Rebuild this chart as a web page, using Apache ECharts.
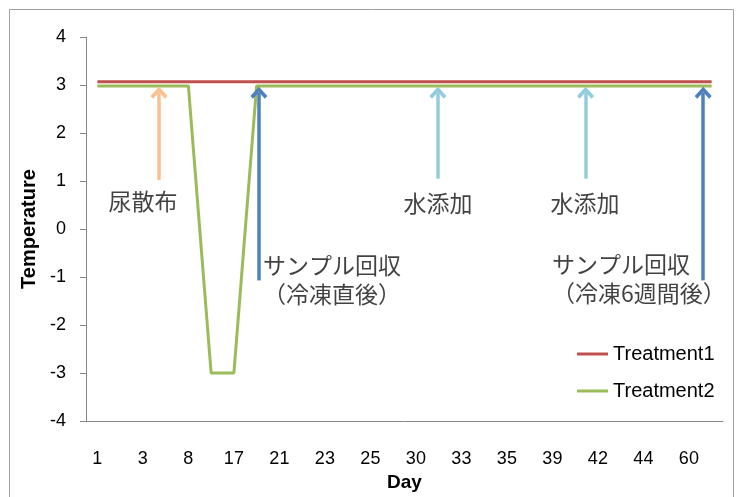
<!DOCTYPE html>
<html>
<head>
<meta charset="utf-8">
<script src="https://cdn.jsdelivr.net/npm/echarts@6/dist/echarts.min.js"></script>
<style>
  html, body { margin: 0; padding: 0; background: #fff; }
  #chart { width: 737px; height: 497px; }
</style>
</head>
<body>
<div id="chart"></div>
<script>
// x categories, only every other one gets a label
const days = ['1', '2', '3', '5', '8', '12', '17', '19', '21', '22', '23', '24', '25', '27',
  '30', '32', '33', '34', '35', '37', '39', '40', '42', '43', '44', '50', '60', '61']
const treatment1 = [3.07, 3.07, 3.07, 3.07, 3.07, 3.07, 3.07, 3.07, 3.07, 3.07, 3.07, 3.07, 3.07, 3.07,
  3.07, 3.07, 3.07, 3.07, 3.07, 3.07, 3.07, 3.07, 3.07, 3.07, 3.07, 3.07, 3.07, 3.07]
const treatment2 = [2.98, 2.98, 2.98, 2.98, 2.98, -3, -3, 2.98, 2.98, 2.98, 2.98, 2.98, 2.98, 2.98,
  2.98, 2.98, 2.98, 2.98, 2.98, 2.98, 2.98, 2.98, 2.98, 2.98, 2.98, 2.98, 2.98, 2.98]

// annotation arrows (x in category units on a hidden value axis)
const arrowX = [3.21, 7.6, 15.47, 21.96, 27.13]
const arrowFrom = [1.02, -1.07, 1.05, 1.05, -1.07]
const arrowTo = [2.84, 2.84, 2.84, 2.84, 2.84]
const arrowColors = ['#FAC090', '#4F81BD', '#93CDDD', '#93CDDD', '#4F81BD']

// annotation texts
const noteText = ['尿散布', 'サンプル回収\n（冷凍直後）', '水添加', '水添加', 'サンプル回収\n（冷凍6週間後）']
const noteX = [2.51, 7.78, 15.47, 21.93, 20.48]
const noteY = [0.58, -1.06, 0.54, 0.54, -1.03]
const noteAlign = ['center', 'left', 'center', 'center', 'left']

const latin = '"Liberation Sans", Arial, sans-serif'
const cjk = '"Noto Sans CJK JP", "Liberation Sans", sans-serif'
const axisGray = '#868686'
const arrowPath = 'path://M10,0 L20,10 L17,13 L10,6 L3,13 L0,10 Z'

const chart = echarts.init(document.getElementById('chart'))

const notes = noteText.map((t, i) => ({
  value: [noteX[i], noteY[i]],
  label: { align: noteAlign[i], formatter: t }
}))

const arrows = arrowX.map((x, i) => [
  { coord: [x, arrowFrom[i]], lineStyle: { color: arrowColors[i], width: 3.5, type: 'solid' } },
  { coord: [x, arrowTo[i]] }
])

const option = {
  animation: false,
  graphic: [{
    type: 'rect',
    shape: { x: 9.5, y: 9.5, width: 724, height: 490 },
    style: { fill: 'none', stroke: '#a0a0a0', lineWidth: 1 },
    silent: true
  }],
  grid: { left: 86, right: 14, top: 37, bottom: 69 },
  legend: {
    data: ['Treatment1', 'Treatment2'],
    orient: 'vertical',
    left: 577,
    top: 344,
    padding: 0,
    icon: 'rect',
    itemWidth: 31,
    itemHeight: 3,
    itemGap: 17,
    textStyle: { fontFamily: latin, fontSize: 20, color: '#000', lineHeight: 20 }
  },
  xAxis: [{
    type: 'category',
    data: days,
    boundaryGap: true,
    name: 'Day',
    nameLocation: 'middle',
    nameGap: 45,
    nameTextStyle: { fontFamily: latin, fontSize: 19, fontWeight: 'bold', color: '#000' },
    axisLine: { onZero: false, lineStyle: { color: axisGray } },
    axisTick: { interval: 0, length: 6, lineStyle: { color: axisGray } },
    axisLabel: { interval: 1, margin: 29, fontFamily: latin, fontSize: 18, color: '#000' },
    splitLine: { show: false }
  }, {
    type: 'value',
    min: 0,
    max: 28,
    show: false
  }],
  yAxis: {
    type: 'value',
    min: -4,
    max: 4,
    interval: 1,
    name: 'Temperature',
    nameLocation: 'middle',
    nameGap: 43,
    nameTextStyle: { fontFamily: latin, fontSize: 20, fontWeight: 'bold', color: '#000' },
    axisLine: { show: true, lineStyle: { color: axisGray } },
    axisTick: { show: true, length: 6, lineStyle: { color: axisGray } },
    axisLabel: { margin: 20, fontFamily: latin, fontSize: 18, color: '#000' },
    splitLine: { show: false }
  },
  series: [{
    name: 'Treatment1',
    type: 'line',
    data: treatment1,
    symbol: 'none',
    lineStyle: { color: '#C0504D', width: 3 },
    itemStyle: { color: '#C0504D' },
    z: 3
  }, {
    name: 'Treatment2',
    type: 'line',
    data: treatment2,
    symbol: 'none',
    lineStyle: { color: '#9BBB59', width: 3 },
    itemStyle: { color: '#9BBB59' },
    z: 3
  }, {
    name: 'notes',
    type: 'scatter',
    xAxisIndex: 1,
    symbolSize: 0,
    silent: true,
    data: notes,
    label: {
      show: true,
      position: 'inside',
      verticalAlign: 'middle',
      fontFamily: cjk,
      fontSize: 23,
      lineHeight: 29,
      color: '#111'
    },
    markLine: {
      silent: true,
      animation: false,
      symbol: ['none', arrowPath],
      symbolSize: [17, 12],
      label: { show: false },
      data: arrows
    },
    z: 4
  }]
}

chart.setOption(option)
</script>
</body>
</html>
